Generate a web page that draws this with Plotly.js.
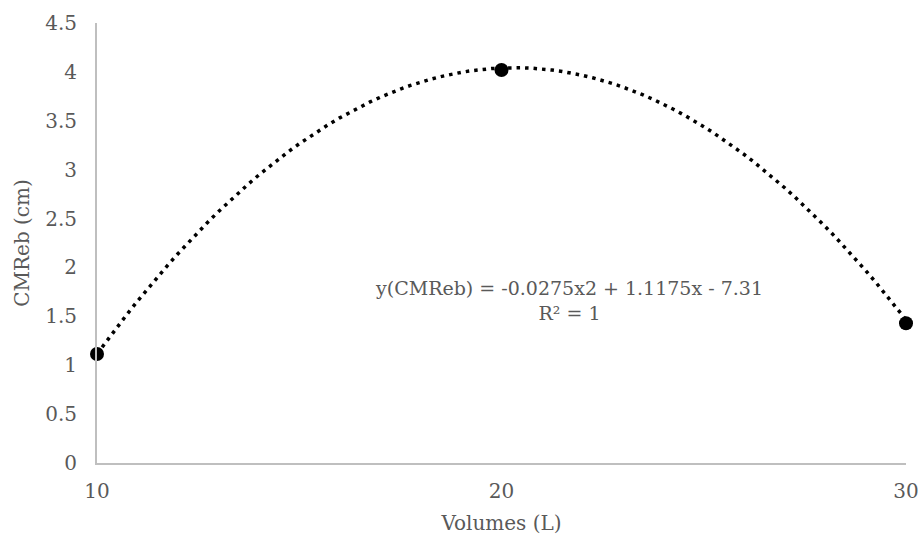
<!DOCTYPE html>
<html>
<head>
<meta charset="utf-8">
<script src="https://cdn.plot.ly/plotly-3.0.1.min.js"></script>
<style>html,body{margin:0;padding:0;background:#fff;}#chart{width:920px;height:542px;}</style>
</head>
<body>
<div id="chart"></div>
<script>
// Data
var volumes = [10, 20, 30];
var cmreb = [1.115, 4.02, 1.43];
// Polynomial trendline coefficients shown on the chart (a*x^2 + b*x + c)
var trendCoef = [-0.0275, 1.1175, -7.31];
var xTickVals = [10, 20, 30];
var yTickVals = [0, 0.5, 1, 1.5, 2, 2.5, 3, 3.5, 4, 4.5];
var equationText = "y(CMReb) = -0.0275x2 + 1.1175x - 7.31<br>R² = 1";

var trendX = [], trendY = [];
for (var i = 0; i <= 80; i++) {
  var x = volumes[0] + (volumes[volumes.length - 1] - volumes[0]) * i / 80;
  trendX.push(x);
  trendY.push(trendCoef[0] * x * x + trendCoef[1] * x + trendCoef[2]);
}

var font = 'DejaVu Serif';

var data = [
  {
    x: trendX, y: trendY, type: 'scatter', mode: 'lines',
    line: {color: '#000', width: 3.5, dash: '3.5px,5px'},
    hoverinfo: 'skip', cliponaxis: false, showlegend: false
  },
  {
    x: volumes, y: cmreb, type: 'scatter', mode: 'markers',
    marker: {color: '#000', size: 14},
    cliponaxis: false, showlegend: false
  }
];

var layout = {
  width: 920, height: 542,
  margin: {l: 97, r: 14, t: 23, b: 79},
  paper_bgcolor: '#fff', plot_bgcolor: '#fff',
  font: {family: font, color: '#595959', size: 20},
  xaxis: {
    range: [10, 30], tickvals: xTickVals, ticktext: xTickVals.map(String),
    showgrid: false, zeroline: false, showline: true, linecolor: '#bfbfbf', linewidth: 2,
    ticks: '', ticklabelstandoff: 9,
    tickfont: {family: font, size: 20, color: '#595959'},
    title: {text: 'Volumes (L)', font: {family: font, size: 20, color: '#595959'}, standoff: 14}
  },
  yaxis: {
    range: [0, 4.5], tickvals: yTickVals, ticktext: yTickVals.map(String),
    showgrid: false, zeroline: false, showline: true, linecolor: '#bfbfbf', linewidth: 2,
    ticks: '', ticklabelstandoff: 14,
    tickfont: {family: font, size: 20, color: '#595959'},
    title: {text: 'CMReb (cm)', font: {family: font, size: 20, color: '#595959'}, standoff: 10}
  },
  annotations: [{
    x: 0.583, y: 0.37, xref: 'paper', yref: 'paper', xanchor: 'center', yanchor: 'middle',
    text: equationText, showarrow: false, align: 'center',
    font: {family: font, size: 19, color: '#595959'}
  }]
};

Plotly.newPlot('chart', data, layout, {displayModeBar: false, staticPlot: true});
</script>
</body>
</html>
